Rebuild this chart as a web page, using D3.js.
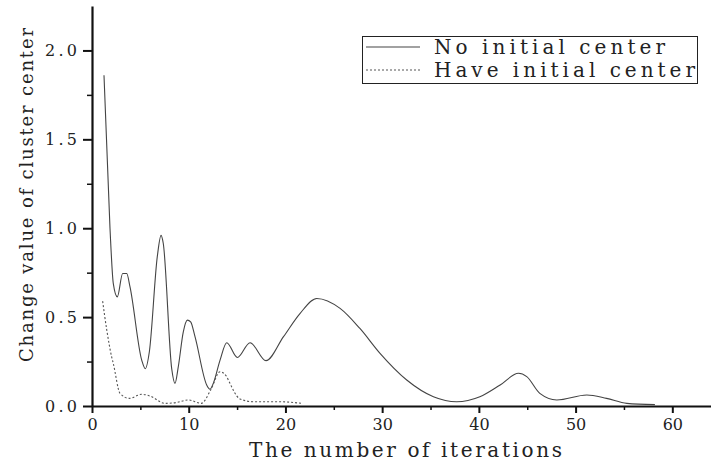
<!DOCTYPE html>
<html>
<head>
<meta charset="utf-8">
<script src="https://cdn.jsdelivr.net/npm/d3@7"></script>
<style>
  body { margin: 0; background: #fff; }
  svg { display: block; }
  .axis text { font-family: "DejaVu Serif", "Liberation Serif", serif; font-size: 16px; fill: #222; }
  .axis path, .axis line { stroke: #111; }
  .title { font-family: "DejaVu Serif", "Liberation Serif", serif; fill: #222; }
</style>
</head>
<body>
<svg id="chart" width="711" height="465"></svg>
<script>
// series: [iteration, change value]
const noInitIter = [1.24, 1.86, 2.2, 2.62, 3.17, 3.59, 3.93, 5.14, 5.51, 5.93, 6.75, 7.14, 7.37, 8.24, 8.58, 8.92, 9.44, 9.86, 10.2, 10.65,
  11.86, 12.2, 12.54, 13.24, 13.93, 15.03, 16.34, 17.99, 19.8, 21.5, 23.24, 25.65, 27.7, 29.78, 32.54, 35.3, 37.7, 40.1, 42.2, 44.1,
  44.95, 46.3, 48.06, 51.16, 53.2, 55.3, 58.2];
const noInitVal = [1.86, 1.0, 0.69, 0.614, 0.745, 0.745, 0.67, 0.258, 0.21, 0.305, 0.84, 0.96, 0.914, 0.21, 0.127, 0.22, 0.417, 0.483, 0.473, 0.39,
  0.118, 0.094, 0.127, 0.258, 0.356, 0.273, 0.356, 0.255, 0.39, 0.52, 0.605, 0.549, 0.436, 0.296, 0.146, 0.052, 0.024, 0.052, 0.118, 0.184,
  0.165, 0.071, 0.034, 0.062, 0.043, 0.015, 0.008];

const haveInitIter = [1.1, 1.52, 2.03, 2.2, 2.9, 3.86, 5.14, 6.0, 7.55, 8.76, 9.96, 11.3, 12.27, 13.24, 13.93, 14.1, 15.3, 16.68, 19.27, 21.7];
const haveInitVal = [0.59, 0.43, 0.277, 0.24, 0.071, 0.043, 0.066, 0.056, 0.015, 0.02, 0.034, 0.015, 0.09, 0.193, 0.165, 0.146, 0.04, 0.024, 0.024, 0.015];

const xMajor = [0, 10, 20, 30, 40, 50, 60];
const xMinor = [5, 15, 25, 35, 45, 55];
const yMajor = [0, 0.5, 1.0, 1.5, 2.0];
const yMinor = [0.25, 0.75, 1.25, 1.75];

const seriesNames = ["No initial center", "Have initial center"];
const xTitle = "The number of iterations";
const yTitle = "Change value of cluster center";

const svg = d3.select("#chart");
const margin = { top: 6, right: 0, bottom: 59, left: 92 };
const width = +svg.attr("width") - margin.left - margin.right;
const height = +svg.attr("height") - margin.top - margin.bottom;

const x = d3.scaleLinear().domain([0, 64]).range([0, width]);
const y = d3.scaleLinear().domain([0, 2.25]).range([height, 0]);

const g = svg.append("g")
    .attr("transform", `translate(${margin.left},${margin.top})`);

// minor ticks
g.append("g")
    .attr("class", "axis")
    .attr("transform", `translate(0,${height})`)
    .call(d3.axisBottom(x).tickValues(xMinor).tickSize(4).tickSizeOuter(0).tickFormat(""))
    .call(a => a.select(".domain").remove())
    .selectAll("line").attr("stroke-width", 1.5);

g.append("g")
    .attr("class", "axis")
    .call(d3.axisLeft(y).tickValues(yMinor).tickSize(5).tickSizeOuter(0).tickFormat(""))
    .call(a => a.select(".domain").remove())
    .selectAll("line").attr("stroke-width", 1.5);

// major axes
const xAxis = g.append("g")
    .attr("class", "axis")
    .attr("transform", `translate(0,${height})`)
    .call(d3.axisBottom(x).tickValues(xMajor).tickSize(7).tickSizeOuter(0).tickPadding(6).tickFormat(d3.format("d")));
xAxis.select(".domain").attr("stroke-width", 2.2).attr("stroke", "#333");
xAxis.selectAll("line").attr("stroke-width", 2);

const yAxis = g.append("g")
    .attr("class", "axis")
    .call(d3.axisLeft(y).tickValues(yMajor).tickSize(9).tickSizeOuter(0).tickPadding(6).tickFormat(d3.format(".1f")));
yAxis.select(".domain").attr("stroke-width", 2.2);
yAxis.selectAll("line").attr("stroke-width", 2);
yAxis.selectAll("text")
    .attr("dy", "0.34em")
    .attr("textLength", 32)
    .attr("lengthAdjust", "spacing");

// curves
const line = d3.line()
    .x(d => x(d[0]))
    .y(d => y(d[1]))
    .curve(d3.curveMonotoneX);

const noInit = noInitIter.map((d, i) => [d, noInitVal[i]]);
const haveInit = haveInitIter.map((d, i) => [d, haveInitVal[i]]);

g.append("path")
    .datum(noInit)
    .attr("fill", "none")
    .attr("stroke", "#444")
    .attr("stroke-width", 1.1)
    .attr("d", line);

g.append("path")
    .datum(haveInit)
    .attr("fill", "none")
    .attr("stroke", "#555")
    .attr("stroke-width", 1.1)
    .attr("stroke-dasharray", "2,2")
    .attr("d", line);

// axis titles
svg.append("text")
    .attr("class", "title")
    .attr("x", 249)
    .attr("y", 457)
    .attr("textLength", 313)
    .attr("lengthAdjust", "spacing")
    .style("font-size", "20px")
    .text(xTitle);

svg.append("text")
    .attr("class", "title")
    .attr("transform", "translate(33,362) rotate(-90)")
    .attr("textLength", 334)
    .attr("lengthAdjust", "spacing")
    .style("font-size", "18px")
    .text(yTitle);

// legend
const legend = svg.append("g");
legend.append("rect")
    .attr("x", 362.5).attr("y", 36.5)
    .attr("width", 335).attr("height", 47)
    .attr("fill", "#fff")
    .attr("stroke", "#222")
    .attr("stroke-width", 1);

const legendWidths = [231, 261];
seriesNames.forEach((name, i) => {
    const ly = 47 + i * 23;
    legend.append("line")
        .attr("x1", 366).attr("x2", 420)
        .attr("y1", ly).attr("y2", ly)
        .attr("stroke", i === 0 ? "#444" : "#555")
        .attr("stroke-width", 1.1)
        .attr("stroke-dasharray", i === 0 ? null : "2,2");
    legend.append("text")
        .attr("class", "title")
        .attr("x", 434)
        .attr("y", ly + 7)
        .attr("textLength", legendWidths[i])
        .attr("lengthAdjust", "spacing")
        .style("font-size", "20px")
        .text(name);
});
</script>
</body>
</html>
